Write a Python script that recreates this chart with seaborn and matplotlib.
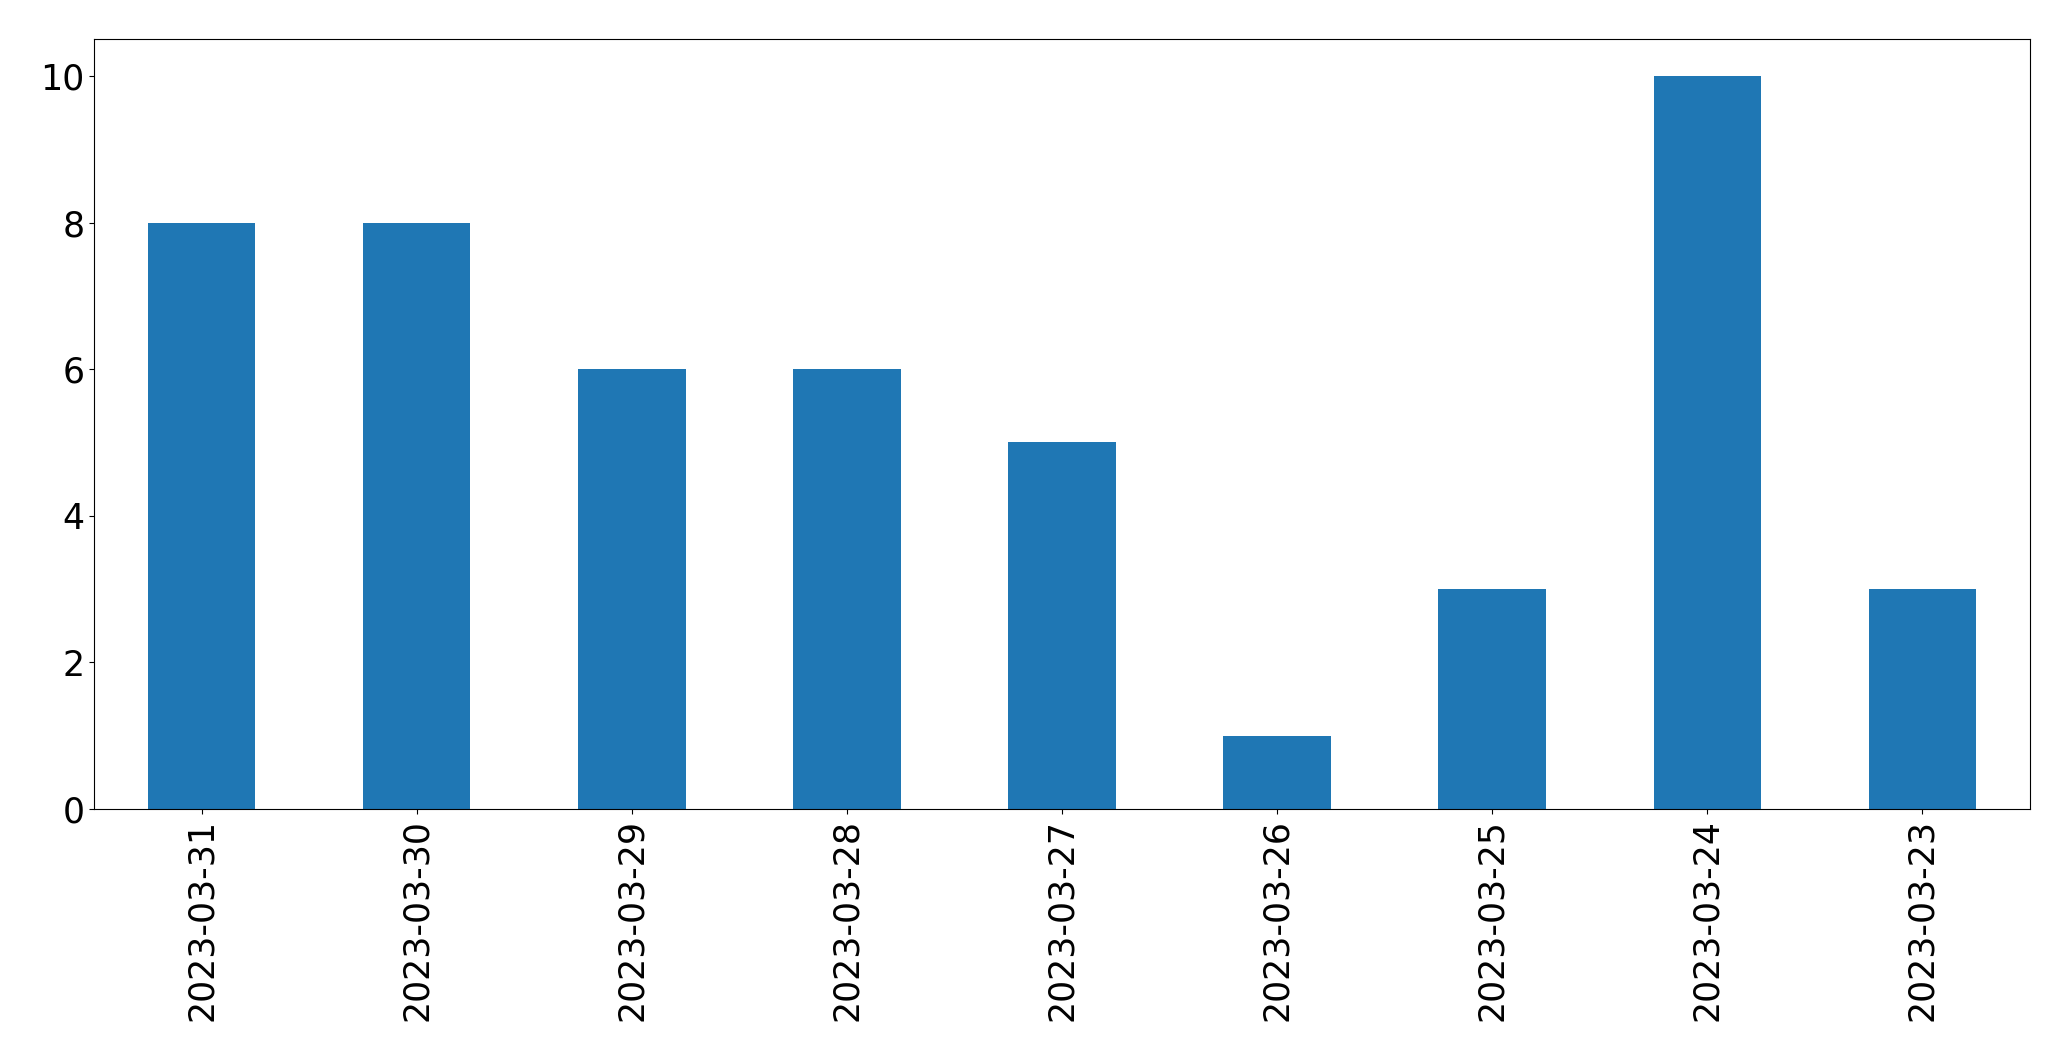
import matplotlib
matplotlib.use('Agg')
import matplotlib.pyplot as plt
import seaborn as sns
import pandas as pd

dates = ['2023-03-31', '2023-03-30', '2023-03-29', '2023-03-28', '2023-03-27',
         '2023-03-26', '2023-03-25', '2023-03-24', '2023-03-23']
counts = [8, 8, 6, 6, 5, 1, 3, 10, 3]

plt.rcParams['font.family'] = ['DejaVu Sans']

df = pd.DataFrame({'date': dates, 'count': counts})

fig = plt.figure(figsize=(20.71, 10.61), dpi=100)
ax = fig.add_axes([0.0454, 0.2375, 0.9348, 0.7255])

sns.barplot(data=df, x='date', y='count', order=dates, color='#1f77b4',
            saturation=1, width=0.5, linewidth=0, ax=ax)

ax.set_xlim(-0.5, len(dates) - 0.5)
ax.set_ylim(0, 10.5)
ax.set_xlabel('')
ax.set_ylabel('')
ax.tick_params(axis='both', labelsize=25, length=3.5, width=0.8,
               colors='black')
ax.tick_params(axis='x', rotation=90)
for s in ax.spines.values():
    s.set_visible(True)
    s.set_linewidth(0.8)
    s.set_color('black')

fig.savefig('out.png', dpi=100)
